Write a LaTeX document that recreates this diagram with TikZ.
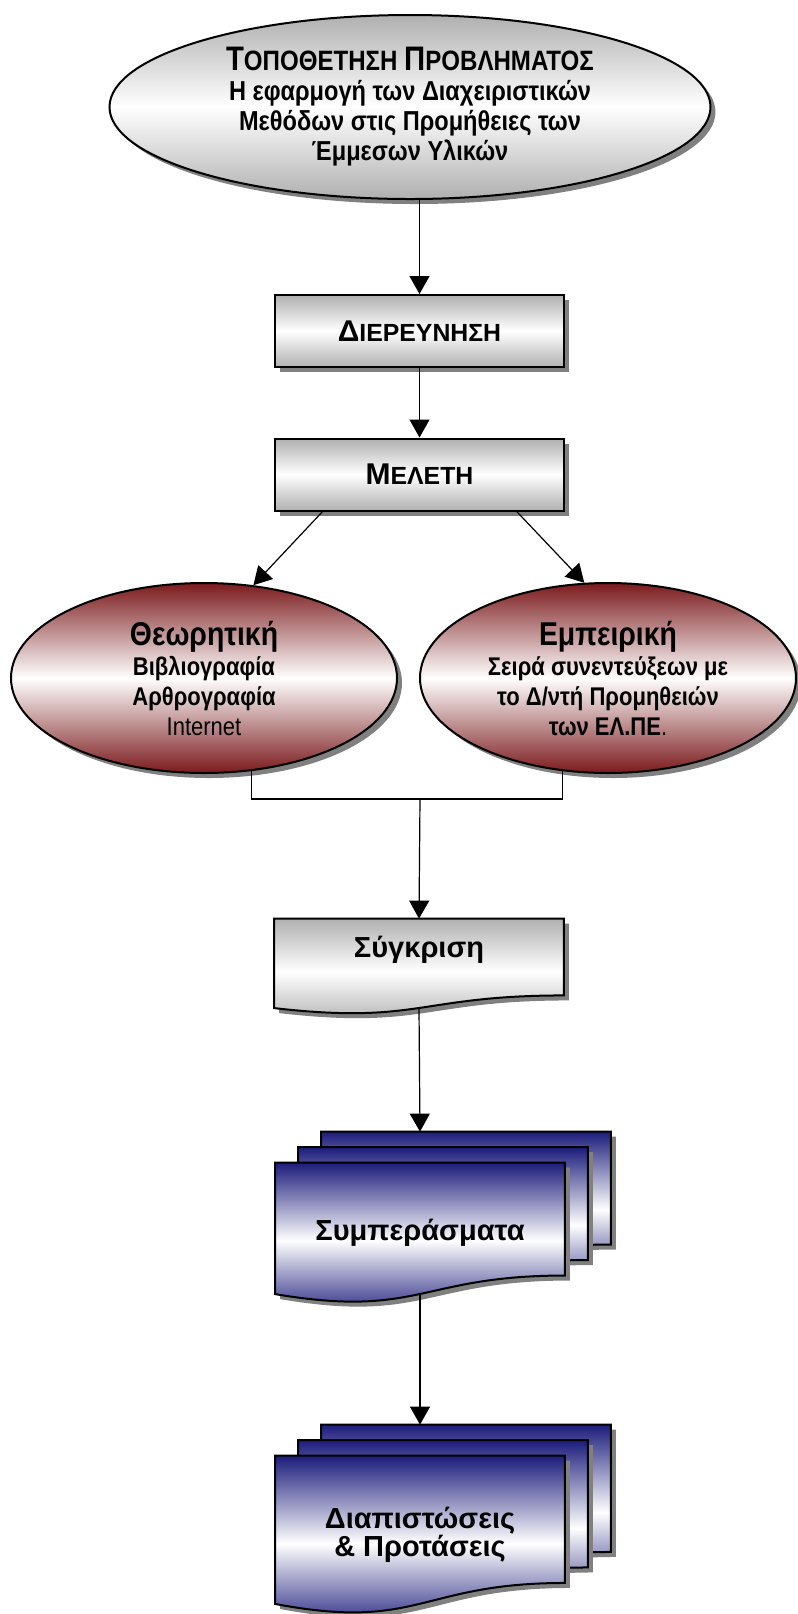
\documentclass[tikz,border=0pt]{standalone}
\usepackage{fontspec}
\setmainfont{Liberation Sans}
\newfontfamily\narrowfont[FakeStretch=0.86]{Liberation Sans}
\usepackage{tikz}
\usetikzlibrary{positioning,arrows.meta,shapes.geometric,shadows,calc,backgrounds}

\definecolor{boxgray}{HTML}{B0B0B0}
\definecolor{winered}{HTML}{7B1A1C}
\definecolor{docnavy}{HTML}{1C1C7C}
\definecolor{shadowgray}{HTML}{808080}

\newcommand\bigini[2][15]{{\fontsize{#1}{#1}\selectfont #2}}
\newcommand\pagepath[3]{($(#1.north west)+(#2,#3)$) -- ($(#1.north east)+(#2,#3)$)
  -- ($(#1.north east)!0.802!(#1.south east)+(#2,#3)$)
  .. controls ($(#1.north)!0.802!(#1.south)+(#2,#3)$) and ($(#1.north)!1.1075!(#1.south)+(#2,#3)$)
  .. ($(#1.north west)!0.934!(#1.south west)+(#2,#3)$) -- cycle}

\begin{document}
\begin{tikzpicture}[x=0.5pt, y=-0.5pt,
  shade/.style={drop shadow={shadow xshift=2.5pt, shadow yshift=-2.5pt, fill=shadowgray, opacity=1}},
  oval/.style={ellipse, draw, line width=1pt, inner sep=0pt, align=center, shade,
               top color=boxgray, bottom color=boxgray, middle color=white,
               font=\narrowfont\bfseries\fontsize{13.7}{15}\selectfont},
  redoval/.style={oval, minimum height=95pt, top color=winered, bottom color=winered,
                  middle color=white, font=\narrowfont\bfseries\fontsize{12.8}{15}\selectfont},
  capbox/.style={draw, line width=1pt, shade, minimum width=144.5pt, minimum height=36pt,
                 top color=boxgray, bottom color=boxgray, middle color=white,
                 font=\bfseries\fontsize{12.4}{14}\selectfont},
  docnode/.style={minimum width=144.5pt, inner sep=0pt, align=center,
                  font=\bfseries\fontsize{14.5}{14}\selectfont},
  docpage/.style={draw, line width=1pt, shade, top color=boxgray, bottom color=boxgray, middle color=white},
  stackpage/.style={docpage, top color=docnavy, bottom color=docnavy, middle color=white},
  ar/.style={-{Triangle[length=9pt, width=10pt]}, line width=0.6pt}]
\useasboundingbox (0,0) rectangle (798,1614);
\node[oval, minimum width=300.5pt, minimum height=92pt] (prob) at (410,107)
  {{\fontsize{14}{15}\selectfont\bigini[17]{Τ}ΟΠΟΘΕΤΗΣΗ \bigini[17]{Π}ΡΟΒΛΗΜΑΤΟΣ}\\
   Η εφαρμογή των Διαχειριστικών\\ Μεθόδων στις Προμήθειες των\\ Έμμεσων Υλικών};
\node[capbox] (dier) at (419.5,331) {\bigini{Δ}ΙΕΡΕΥΝΗΣΗ};
\node[capbox] (melet) at (419.5,474.5) {\bigini{Μ}ΕΛΕΤΗ};
\node[redoval, minimum width=193pt] (theo) at (204,678)
  {\bigini[16.5]{Θεωρητική}\\ Βιβλιογραφία\\ Αρθρογραφία\\ {\mdseries Internet}};
\node[redoval, minimum width=188pt] (emp) at (608,678)
  {\bigini[16.5]{Εμπειρική}\\ Σειρά συνεντεύξεων με\\ το Δ/ντή Προμηθειών\\ των ΕΛ.ΠΕ{\mdseries .}};
\coordinate (join) at (420,799);
\node[docnode, minimum height=47.5pt, text depth=19.5pt] (cmp) at (419,966.5) {Σύγκριση};
\node[docnode, minimum height=70pt] (cnc) at (420,1233) {Συμπεράσματα};
\node[docnode, minimum height=79pt] (dp) at (420,1535) {Διαπιστώσεις\\ \& Προτάσεις};
\begin{scope}[on background layer]
  \draw[docpage] \pagepath{cmp}{0}{0};
  \foreach \n in {cnc,dp}
    \foreach \d in {2,1,0}
      \draw[stackpage] \pagepath{\n}{23*\d}{-15.5*\d};
\end{scope}
\draw[ar] (prob.south -| dier.north) -- (dier);
\draw[ar] (dier) -- (melet);
\draw[ar] ($(melet.south west)!0.167!(melet.south east)$) -- (theo.62);
\draw[ar] ($(melet.south west)!0.834!(melet.south east)$) -- (emp.104);
\draw[line width=0.6pt] (theo.-63) |- (join) -| (emp.-116);
\draw[ar] (join) -- (cmp.north);
\draw[ar] ($(cmp.north)!0.933!(cmp.south)$) -- ($(cnc.north)+(0,-31)$);
\draw[ar] ($(cnc.north)!0.933!(cnc.south)$) -- ($(dp.north)+(0,-31)$);
\end{tikzpicture}
\end{document}
